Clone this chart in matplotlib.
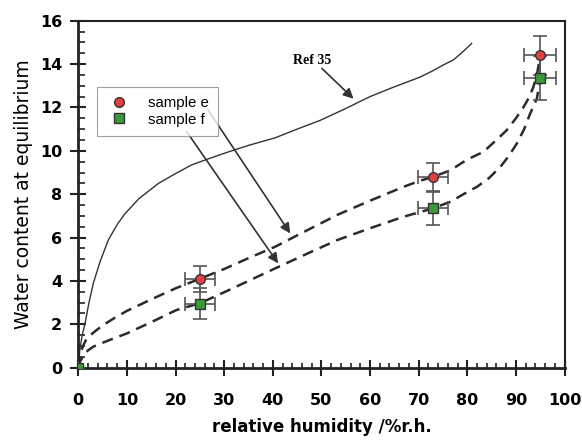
import matplotlib.pyplot as plt
from matplotlib.lines import Line2D
from matplotlib.ticker import MultipleLocator

# measured sorption points (relative humidity %, water content)
rh_points = [0, 25, 73, 95]
water_e = [0, 4.1, 8.8, 14.4]
water_f = [0, 2.95, 7.35, 13.35]
rh_err = [0, 3.1, 3.1, 3.3]
water_e_err = [0, 0.6, 0.65, 0.9]
water_f_err = [0, 0.72, 0.77, 1.0]

# fitted isotherms through the samples
fit_rh_e = [0, 0.3, 0.8, 1.5, 3, 5, 7.5, 10, 15, 20, 25, 30, 35, 40.5, 45, 50, 53.2,
            60, 66.9, 70, 73, 76.5, 80, 83.3, 86, 88.1, 90, 91.6, 92.8, 93.6, 94.4, 95]
fit_e = [0, 0.45, 0.9, 1.25, 1.6, 1.95, 2.3, 2.62, 3.15, 3.66, 4.1, 4.55, 5.05, 5.58,
         6.1, 6.67, 7.04, 7.7, 8.34, 8.6, 8.8, 9.1, 9.6, 9.95, 10.5, 10.95, 11.5,
         12.03, 12.5, 12.95, 13.6, 14.4]
fit_rh_f = [0, 0.3, 1, 2, 3.1, 5, 7.5, 10, 15, 20.2, 25, 30.2, 35, 40.5, 47, 53.2, 60,
            66.9, 73, 76.5, 80, 82, 84.5, 86.8, 88.5, 90.2, 91.7, 92.9, 94.3, 95]
fit_f = [0, 0.25, 0.55, 0.8, 0.97, 1.15, 1.37, 1.58, 2.1, 2.66, 2.97, 3.5, 4.0, 4.58,
         5.25, 5.88, 6.43, 6.96, 7.35, 7.65, 8.1, 8.34, 8.75, 9.26, 9.75, 10.34, 11.0,
         11.7, 12.4, 13.35]

# literature isotherm (Ref 35)
ref_rh = [0, 0.3, 0.8, 1.4, 2.2, 3.1, 4.5, 6.2, 8, 9.6, 12.5, 16.5, 20, 23.3, 27, 30.2,
          35, 40.5, 45, 49.7, 55, 60, 65, 70.3, 73, 75, 77.2, 79, 80.9]
ref_water = [0, 0.8, 1.5, 2.05, 3.0, 3.9, 4.9, 5.9, 6.6, 7.1, 7.8, 8.5, 8.95, 9.35,
             9.65, 9.9, 10.25, 10.6, 11.0, 11.4, 11.95, 12.5, 12.95, 13.4, 13.7, 13.95,
             14.2, 14.55, 14.95]

LINE_COLOR = "#2b2b2b"
ERR_COLOR = "#555555"

fig = plt.figure(figsize=(5.82, 4.40), dpi=100)
ax = fig.add_axes([0.1345, 0.1643, 0.8355, 0.7887])

ax.plot(ref_rh, ref_water, color="#333333", lw=1.0)
ax.plot(fit_rh_e, fit_e, color=LINE_COLOR, lw=1.8, dashes=(4.5, 2.8))
ax.plot(fit_rh_f, fit_f, color=LINE_COLOR, lw=1.8, dashes=(4.5, 2.8))

ax.errorbar(rh_points, water_e, xerr=rh_err, yerr=water_e_err, fmt="none",
            ecolor=ERR_COLOR, elinewidth=1.2, capsize=5, capthick=1.2, zorder=3)
ax.errorbar(rh_points, water_f, xerr=rh_err, yerr=water_f_err, fmt="none",
            ecolor=ERR_COLOR, elinewidth=1.2, capsize=5, capthick=1.2, zorder=3)
ax.plot(rh_points, water_e, "o", ms=7, mfc="#e04040", mec="#333333", mew=1.0, zorder=4)
ax.plot(rh_points, water_f, "s", ms=7, mfc="#3a9a3a", mec="#333333", mew=1.0, zorder=4)

arrow = dict(arrowstyle="-|>", color="#333333", lw=1.2, mutation_scale=15, shrinkA=0, shrinkB=0)
ax.annotate("", xy=(56.6, 12.4), xytext=(50.1, 13.8), arrowprops=arrow)
ax.annotate("", xy=(43.6, 6.19), xytext=(26.7, 11.88), arrowprops=arrow)
ax.annotate("", xy=(41.1, 4.81), xytext=(22.3, 10.88), arrowprops=arrow)
ax.text(48.1, 14.15, "Ref 35", family="Liberation Serif", weight="bold",
        fontsize=10, ha="center", va="center")

handles = [
    Line2D([], [], ls="none", marker="o", ms=7, mfc="#e04040", mec="#333333"),
    Line2D([], [], ls="none", marker="s", ms=7, mfc="#3a9a3a", mec="#333333"),
]
leg = ax.legend(handles, ["sample e", "sample f"], loc="upper left",
                bbox_to_anchor=(0.038, 0.808), borderaxespad=0, fancybox=False,
                prop={"family": "Liberation Sans", "size": 10.8}, handletextpad=1.0,
                labelspacing=0.15, borderpad=0.6, handlelength=1.8)
leg.get_frame().set_edgecolor("#888888")
leg.get_frame().set_linewidth(0.8)

ax.set_xlim(0, 100)
ax.set_ylim(0, 16)
ax.xaxis.set_major_locator(MultipleLocator(10))
ax.xaxis.set_minor_locator(MultipleLocator(2))
ax.yaxis.set_major_locator(MultipleLocator(2))
ax.yaxis.set_minor_locator(MultipleLocator(0.5))
ax.tick_params(which="major", direction="inout", length=11, width=1.5, color="#222222",
               labelsize=11.5)
ax.tick_params(axis="x", which="major", pad=13)
ax.tick_params(axis="y", which="major", pad=6)
ax.tick_params(axis="x", which="minor", direction="in", length=3.5, width=1.2, color="#222222")
ax.tick_params(axis="y", which="minor", direction="in", length=5, width=1.2, color="#222222")
for lab in ax.get_xticklabels() + ax.get_yticklabels():
    lab.set_fontweight("bold")

for side in ["left", "bottom"]:
    ax.spines[side].set_linewidth(2.0)
for side in ["top", "right"]:
    ax.spines[side].set_linewidth(1.5)
ax.spines[:].set_color("#222222")

ax.set_xlabel("relative humidity /%r.h.", fontsize=12, fontweight="bold", labelpad=7)
ax.set_ylabel("Water content at equilibrium", fontsize=13.5, labelpad=5)

fig.savefig("out.png", dpi=100)
